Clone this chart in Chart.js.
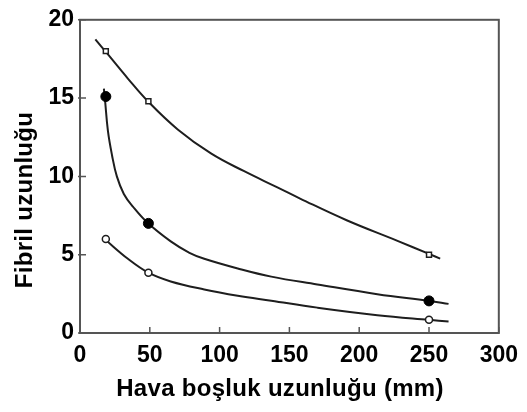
<!DOCTYPE html>
<html>
<head>
<meta charset="utf-8">
<script src="https://cdn.jsdelivr.net/npm/chart.js@4"></script>
<style>
html,body{margin:0;padding:0;background:#fff;}
#wrap{width:527px;height:412px;}
</style>
</head>
<body>
<div id="wrap"><canvas id="c" width="527" height="412"></canvas></div>
<script>
// Tick values
const xTicks = [0, 50, 100, 150, 200, 250, 300];
const yTicks = [0, 5, 10, 15, 20];
const xTitle = "Hava boşluk uzunluğu (mm)";
const yTitle = "Fibril uzunluğu";

// Measured points (markers)
const markX = [18.5, 49, 250];
const upperMarkY = [18.0, 14.8, 5.0];
const middleMarkY = [15.1, 7.0, 2.05];
const lowerMarkY = [6.0, 3.85, 0.85];

// Fitted curves
const upperCurveX = [11, 19, 34.3, 48.6, 70, 93.8, 117.6, 141.4, 158, 191, 227, 250, 258];
const upperCurveY = [18.75, 17.9, 16.25, 14.8, 13.0, 11.47, 10.33, 9.3, 8.57, 7.2, 5.9, 5.05, 4.75];
const middleCurveX = [17.1, 17.9, 20, 22.9, 26.4, 31.4, 37.9, 48.6, 65, 78.4, 89, 113, 137, 170, 213, 250, 264];
const middleCurveY = [15.6, 14.9, 12.9, 11.37, 10.0, 8.88, 8.07, 7.02, 5.85, 5.12, 4.74, 4.12, 3.6, 3.1, 2.48, 2.05, 1.86];
const lowerCurveX = [17.6, 34.3, 49, 65, 89, 113, 137, 170, 213, 250, 264];
const lowerCurveY = [6.0, 4.74, 3.85, 3.29, 2.78, 2.38, 2.06, 1.62, 1.14, 0.84, 0.74];

const pts = (xs, ys) => xs.map((x, i) => ({x: x, y: ys[i]}));
const FONT = "'Liberation Sans', Arial, sans-serif";
const INK = '#1e1e1e';

const curve = (xs, ys) => ({
  data: pts(xs, ys), showLine: true, borderColor: INK, borderWidth: 2,
  pointRadius: 0, tension: 0.4, order: 2
});

const framePlugin = {
  id: 'frame',
  afterDraw(chart) {
    const {ctx, chartArea: a, scales: {x, y}} = chart;
    ctx.save();
    ctx.strokeStyle = '#555';
    ctx.lineWidth = 2;
    ctx.strokeRect(a.left, a.top, a.right - a.left, a.bottom - a.top);
    ctx.lineWidth = 1.5;
    ctx.beginPath();
    xTicks.forEach(v => { const p = x.getPixelForValue(v); ctx.moveTo(p, a.bottom); ctx.lineTo(p, a.bottom - 6); });
    yTicks.forEach(v => { const p = y.getPixelForValue(v); ctx.moveTo(a.left - 2, p); ctx.lineTo(a.left + 6, p); });
    ctx.stroke();
    ctx.fillStyle = '#000';
    ctx.font = "bold 24px " + FONT;
    ctx.textAlign = 'center';
    ctx.textBaseline = 'middle';
    try { ctx.letterSpacing = '0.3px'; } catch (e) {}
    ctx.fillText(xTitle, 280, 389);
    ctx.translate(25, 200);
    ctx.rotate(-Math.PI / 2);
    ctx.fillText(yTitle, 0, 0);
    ctx.restore();
  }
};

new Chart(document.getElementById('c'), {
  type: 'scatter',
  data: {
    datasets: [
      curve(upperCurveX, upperCurveY),
      curve(middleCurveX, middleCurveY),
      curve(lowerCurveX, lowerCurveY),
      {data: pts(markX, upperMarkY), pointStyle: 'rect', pointRadius: 3.5, backgroundColor: '#fff', borderColor: INK, borderWidth: 1.5, order: 1},
      {data: pts(markX, middleMarkY), pointStyle: 'circle', pointRadius: 5, backgroundColor: '#000', borderColor: '#000', borderWidth: 1, order: 1},
      {data: pts(markX, lowerMarkY), pointStyle: 'circle', pointRadius: 3.5, backgroundColor: '#fff', borderColor: INK, borderWidth: 1.5, order: 1}
    ]
  },
  options: {
    responsive: false,
    animation: false,
    layout: {padding: {top: 10, right: 22, left: 0, bottom: 0}},
    plugins: {legend: {display: false}, tooltip: {enabled: false}},
    scales: {
      x: {
        type: 'linear', min: 0, max: 300,
        afterBuildTicks: s => { s.ticks = xTicks.map(v => ({value: v})); },
        afterFit: s => { s.height = 79; },
        grid: {display: false, drawTicks: false},
        border: {display: false},
        ticks: {color: '#000', font: {family: FONT, size: 23, weight: 'bold'}, padding: 9, maxRotation: 0}
      },
      y: {
        type: 'linear', min: 0, max: 20,
        afterBuildTicks: s => { s.ticks = yTicks.map(v => ({value: v})); },
        afterFit: s => { s.width = 80; },
        grid: {display: false, drawTicks: false},
        border: {display: false},
        ticks: {color: '#000', font: {family: FONT, size: 23, weight: 'bold'}, padding: 6}
      }
    }
  },
  plugins: [framePlugin]
});
</script>
</body>
</html>
